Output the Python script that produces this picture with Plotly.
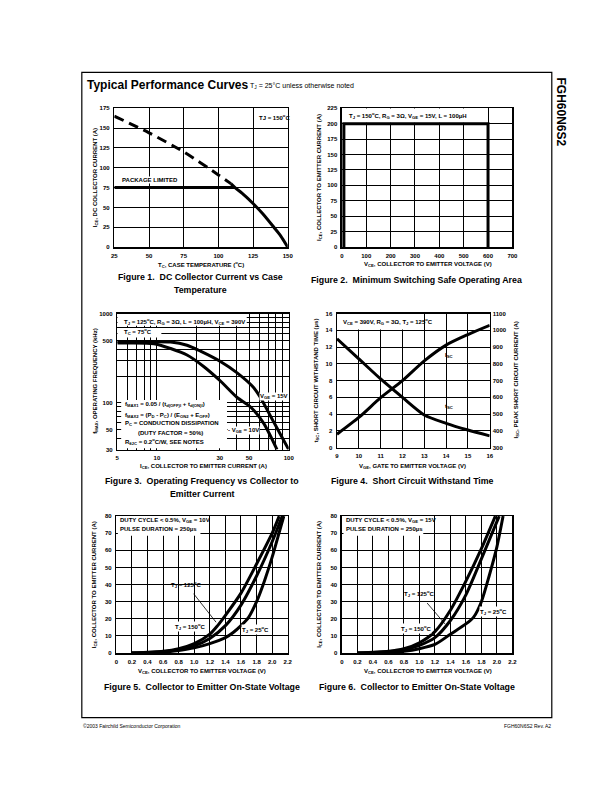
import math
import plotly.graph_objects as go

# ---------------- data ----------------
# Figure 1: DC collector current vs case temperature
fig1_tc_ticks = [25, 50, 75, 100, 125, 150]
fig1_ic_ticks = [0, 25, 50, 75, 100, 125, 150, 175]
fig1_dash_tc = [25, 50, 75, 100, 109]
fig1_dash_ic = [165, 144, 120, 91, 80]
fig1_curve_tc = [109, 112, 117, 125, 132, 140, 145, 150]
fig1_curve_ic = [80, 75, 68, 55, 42, 25, 14, 0]
fig1_pkg_tc = [25, 112]
fig1_pkg_ic = [75, 75]

# Figure 2: minimum switching SOA
fig2_vce_ticks = [0, 100, 200, 300, 400, 500, 600, 700]
fig2_ice_ticks = [0, 25, 50, 75, 100, 125, 150, 175, 200, 225]
fig2_soa_vce = [8, 8, 600, 600]
fig2_soa_ice = [0, 200, 200, 0]

# Figure 3: operating frequency vs collector current (log-log)
fig3_x_ticks = [5, 10, 30, 50, 100]
fig3_x_minor = [6, 7, 8, 9, 20, 40, 60, 70, 80, 90]
fig3_y_ticks = [30, 50, 100, 500, 1000]
fig3_y_minor = [40, 60, 70, 80, 90, 200, 300, 400, 600, 700, 800, 900]
fig3_ice_15v = [5, 9, 12.7, 16.9, 21.4, 30.3, 40.6, 54.3, 61, 76.9, 100]
fig3_f_15v = [485, 485, 481, 443, 380, 291, 217, 148, 115, 61, 30]
fig3_ice_10v = [5, 9.5, 12.7, 16.9, 22.6, 30.3, 40.6, 51.3, 64.6, 81.5]
fig3_f_10v = [468, 461, 407, 344, 256, 176, 115, 90, 59, 30]

# Figure 4: short circuit withstand time
fig4_vge = [9, 10, 11, 12, 13, 14, 15, 16]
fig4_tsc = [13.0, 10.6, 8.2, 6.0, 3.9, 2.9, 2.1, 1.4]
fig4_isc = [380, 480, 598, 700, 818, 912, 975, 1030]
fig4_left_ticks = [0, 2, 4, 6, 8, 10, 12, 14, 16]
fig4_right_ticks = [300, 400, 500, 600, 700, 800, 900, 1000, 1100]

# Figure 5: on-state voltage, VGE = 10V
vce_ticks = [0, 0.2, 0.4, 0.6, 0.8, 1.0, 1.2, 1.4, 1.6, 1.8, 2.0, 2.2]
vce_labels = ["0", "0.2", "0.4", "0.6", "0.8", "1.0", "1.2", "1.4", "1.6", "1.8", "2.0", "2.2"]
ice_ticks = [0, 10, 20, 30, 40, 50, 60, 70, 80]
fig5_v_125 = [0.2, 0.6, 0.8, 1.0, 1.2, 1.3, 1.4, 1.6, 1.8, 2.0, 2.09]
fig5_i_125 = [0, 1, 2.5, 5.5, 11, 16, 22, 35, 52, 70, 80]
fig5_v_150 = [0.2, 0.6, 0.8, 1.0, 1.2, 1.4, 1.6, 1.8, 2.0, 2.13]
fig5_i_150 = [0, 0.8, 2, 4.2, 8.5, 16, 28, 45, 65, 80]
fig5_v_25 = [0.2, 0.6, 0.8, 1.0, 1.2, 1.4, 1.5, 1.6, 1.7, 1.8, 1.9, 2.0, 2.1, 2.15]
fig5_i_25 = [0, 0.5, 1.5, 3, 5.5, 9, 12, 16, 21, 30, 42, 56, 72, 80]

# Figure 6: on-state voltage, VGE = 15V
fig6_v_125 = [0.2, 0.6, 0.8, 1.0, 1.2, 1.4, 1.6, 1.8, 1.98]
fig6_i_125 = [0, 1, 2.5, 6, 12.5, 25, 42, 61, 80]
fig6_v_150 = [0.2, 0.6, 0.8, 1.0, 1.2, 1.4, 1.6, 1.8, 2.03]
fig6_i_150 = [0, 0.8, 2, 4.5, 9, 19, 34, 55, 80]
fig6_v_25 = [0.2, 0.6, 0.8, 1.0, 1.2, 1.4, 1.6, 1.7, 1.8, 1.9, 2.0, 2.08]
fig6_i_25 = [0, 0.3, 1, 2.5, 5, 11, 17, 21, 30, 45, 62, 80]

# ---------------- layout helpers ----------------
W, H = 611, 792
FONT = "Liberation Sans, Arial, Helvetica, sans-serif"
BLACK = "black"
SMALL = 6


def px(x):
    return x / W


def py(y):
    return 1 - y / H


fig = go.Figure()


def add_line(x, y, xa, ya, dash=None, spline=True, width=3):
    fig.add_trace(go.Scatter(
        x=x, y=y, xaxis=xa, yaxis=ya, mode="lines",
        line=dict(color=BLACK, width=width, dash=dash,
                  shape="spline" if spline else "linear", smoothing=0.7),
        hoverinfo="skip", showlegend=False))


tickfont = dict(family=FONT, size=SMALL, color=BLACK, weight="bold")


def base_axis(**kw):
    d = dict(showgrid=True, gridcolor=BLACK, gridwidth=1, showline=True, mirror=True,
             linecolor=BLACK, linewidth=1.5, zeroline=False, ticks="",
             tickfont=tickfont, fixedrange=True, layer="above traces",
             ticklabelstandoff=2)
    d.update(kw)
    return d


def minor_grid(vals):
    return dict(tickvals=vals, showgrid=True, gridcolor=BLACK, gridwidth=1, ticks="")


# ---------------- traces ----------------
add_line(fig1_dash_tc, fig1_dash_ic, "x", "y", dash="10px,6px", spline=True)
add_line(fig1_curve_tc, fig1_curve_ic, "x", "y")
add_line(fig1_pkg_tc, fig1_pkg_ic, "x", "y", spline=False)

add_line(fig2_soa_vce, fig2_soa_ice, "x2", "y2", spline=False)

add_line(fig3_ice_15v, fig3_f_15v, "x3", "y3")
add_line(fig3_ice_10v, fig3_f_10v, "x3", "y3")

add_line(fig4_vge, fig4_tsc, "x4", "y4")
add_line(fig4_vge, fig4_isc, "x4", "y5")

add_line(fig5_v_125, fig5_i_125, "x5", "y6")
add_line(fig5_v_150, fig5_i_150, "x5", "y6")
add_line(fig5_v_25, fig5_i_25, "x5", "y6")

add_line(fig6_v_125, fig6_i_125, "x6", "y7")
add_line(fig6_v_150, fig6_i_150, "x6", "y7")
add_line(fig6_v_25, fig6_i_25, "x6", "y7")

# ---------------- axes ----------------
lay = dict(
    xaxis=base_axis(domain=[px(113), px(289)], range=[25, 150], tickvals=fig1_tc_ticks, anchor="y"),
    yaxis=base_axis(domain=[py(246), py(106)], range=[0, 175], tickvals=fig1_ic_ticks, anchor="x"),
    xaxis2=base_axis(domain=[px(344), px(517)], range=[0, 700], tickvals=fig2_vce_ticks, anchor="y2"),
    yaxis2=base_axis(domain=[py(246), py(106)], range=[0, 225], tickvals=fig2_ice_ticks, anchor="x2"),
    xaxis3=base_axis(domain=[px(116), px(290)], type="log", range=[math.log10(5), 2],
                     tickvals=fig3_x_ticks, ticktext=[str(v) for v in fig3_x_ticks],
                     minor=minor_grid(fig3_x_minor), anchor="y3"),
    yaxis3=base_axis(domain=[py(450), py(313)], type="log", range=[math.log10(30), 3],
                     tickvals=fig3_y_ticks, ticktext=[str(v) for v in fig3_y_ticks],
                     minor=minor_grid(fig3_y_minor), anchor="x3"),
    xaxis4=base_axis(domain=[px(339), px(494)], range=[9, 16], tickvals=fig4_vge, anchor="y4"),
    yaxis4=base_axis(domain=[py(448), py(313)], range=[0, 16], tickvals=fig4_left_ticks, anchor="x4"),
    yaxis5=base_axis(overlaying="y4", side="right", range=[300, 1100], tickvals=fig4_right_ticks,
                     anchor="x4", showgrid=False, showline=False, mirror=False),
    xaxis5=base_axis(domain=[px(115), px(289)], range=[0, 2.2], tickvals=vce_ticks,
                     ticktext=vce_labels, anchor="y6"),
    yaxis6=base_axis(domain=[py(655), py(517)], range=[0, 80], tickvals=ice_ticks, anchor="x5"),
    xaxis6=base_axis(domain=[px(344), px(517)], range=[0, 2.2], tickvals=vce_ticks,
                     ticktext=vce_labels, anchor="y7"),
    yaxis7=base_axis(domain=[py(655), py(517)], range=[0, 80], tickvals=ice_ticks, anchor="x6"),
)

# ---------------- shapes ----------------
shapes = []


def white_box(xr, yr, x0, x1, y0, y1):
    shapes.append(dict(type="rect", xref=xr, yref=yr, x0=x0, x1=x1, y0=y0, y1=y1,
                       fillcolor="white", line=dict(width=0), layer="between"))


white_box("x2", "y2", 1, 597, 201.5, 225)
white_box("x3", "y3", 5, 48, 730, 1000)
white_box("x3", "y3", 5, 10.8, 540, 690)
white_box("x3", "y3", 5.35, 34, 31, 108)
white_box("x4", "y4", 9.03, 12.97, 14.1, 16)
white_box("x5", "y6", 0.02, 1.08, 68.5, 80)
white_box("x6", "y7", 0.02, 1.05, 68.5, 80)

# page frame
shapes.append(dict(type="rect", xref="paper", yref="paper", x0=px(80), x1=px(557),
                   y0=py(720), y1=py(70), line=dict(color=BLACK, width=1.2)))

# ---------------- annotations ----------------
ann = []


def txt(text, x, y, xr="paper", yr="paper", size=SMALL, bold=True, xanchor="center",
        yanchor="middle", angle=0, bg=None, **kw):
    d = dict(text=text, x=x, y=y, xref=xr, yref=yr, showarrow=False,
             font=dict(family=FONT, size=size, color=BLACK, weight="bold" if bold else "normal"),
             xanchor=xanchor, yanchor=yanchor, textangle=angle, borderpad=0)
    if bg:
        d["bgcolor"] = bg
    d.update(kw)
    ann.append(d)


def ptxt(text, x, y, **kw):
    txt(text, px(x), py(y), **kw)


# header / page texts
ptxt("Typical Performance Curves", 84, 83, size=12, xanchor="left")
ptxt("T<sub>J</sub> = 25°C unless otherwise noted", 250, 84, size=7, bold=False, xanchor="left")
ptxt("FGH60N6S2", 566, 110, size=12, angle=90)
ptxt("©2003 Fairchild Semiconductor Corporation", 80, 729, size=5, bold=False, xanchor="left")
ptxt("FGH60N6S2 Rev. A2", 557, 729, size=5, bold=False, xanchor="right")

# captions
CAP = 8.8
ptxt("Figure 1.&nbsp; DC Collector Current vs Case", 200, 276, size=CAP)
ptxt("Temperature", 200, 289, size=CAP)
ptxt("Figure 2.&nbsp; Minimum Switching Safe Operating Area", 420, 279, size=CAP)
ptxt("Figure 3.&nbsp; Operating Frequency vs Collector to", 202, 482, size=CAP)
ptxt("Emitter Current", 202, 495, size=CAP)
ptxt("Figure 4.&nbsp; Short Circuit Withstand Time", 416, 482, size=CAP)
ptxt("Figure 5.&nbsp; Collector to Emitter On-State Voltage", 202, 689, size=CAP)
ptxt("Figure 6.&nbsp; Collector to Emitter On-State Voltage", 420, 689, size=CAP)

# axis titles
ptxt("I<sub>CE</sub>, DC COLLECTOR CURRENT (A)", 94, 176, angle=-90)
ptxt("T<sub>C</sub>, CASE TEMPERATURE (<sup>o</sup>C)", 201, 263)
ptxt("I<sub>CE</sub>, COLLECTOR TO EMITTER CURRENT (A)", 321, 176, angle=-90)
ptxt("V<sub>CE</sub>, COLLECTOR TO EMITTER VOLTAGE (V)", 431, 264)
ptxt("f<sub>MAX</sub>, OPERATING FREQUENCY (kHz)", 93, 381, angle=-90)
ptxt("I<sub>CE</sub>, COLLECTOR TO EMITTER CURRENT (A)", 203, 467)
ptxt("t<sub>SC</sub>, SHORT CIRCUIT WITHSTAND TIME (µs)", 318, 380, angle=-90)
ptxt("I<sub>SC</sub>, PEAK SHORT CIRCUIT CURRENT (A)", 521, 380, angle=-90)
ptxt("V<sub>GE</sub>, GATE TO EMITTER VOLTAGE (V)", 416, 467)
ptxt("I<sub>CE</sub>, COLLECTOR TO EMITTER CURRENT (A)", 93, 586, angle=-90)
ptxt("V<sub>CE</sub>, COLLECTOR TO EMITTER VOLTAGE (V)", 202, 674)
ptxt("I<sub>CE</sub>, COLLECTOR TO EMITTER CURRENT (A)", 321, 586, angle=-90)
ptxt("V<sub>CE</sub>, COLLECTOR TO EMITTER VOLTAGE (V)", 431, 674)

# in-plot texts
txt("TJ = 150<sup>o</sup>C", 140.5, 164, "x", "y")
txt("PACKAGE LIMITED", 30, 84, "x", "y", xanchor="left", bg="white")

txt("T<sub>J</sub> = 150<sup>o</sup>C, R<sub>G</sub> = 3Ω, V<sub>GE</sub> = 15V, L = 100µH",
    25, 213, "x2", "y2", xanchor="left")

L = math.log10
txt("T<sub>J</sub> = 125<sup>o</sup>C, R<sub>G</sub> = 3Ω, L = 100µH, V<sub>CE</sub> = 390V",
    L(5.5), L(820), "x3", "y3", xanchor="left")
txt("T<sub>C</sub> = 75<sup>o</sup>C", L(5.5), L(625), "x3", "y3", xanchor="left")
txt("V<sub>GE</sub> = 15V", L(77), L(118), "x3", "y3", bg="white")
txt("- V<sub>GE</sub> = 10V", L(45), L(48.6), "x3", "y3", bg="white")
txt("f<sub>MAX1</sub> = 0.05 / (t<sub>d(OFF)I</sub> + t<sub>d(ON)I</sub>)", L(5.6), L(95), "x3", "y3",
    xanchor="left")
txt("f<sub>MAX2</sub> = (P<sub>D</sub> - P<sub>C</sub>) / (E<sub>ON2</sub> + E<sub>OFF</sub>)",
    L(5.6), L(73), "x3", "y3", xanchor="left")
txt("P<sub>C</sub> = CONDUCTION DISSIPATION", L(5.6), L(59), "x3", "y3", xanchor="left")
txt("(DUTY FACTOR = 50%)", L(7.1), L(46.4), "x3", "y3", xanchor="left")
txt("R<sub>θJC</sub> = 0.2<sup>o</sup>C/W, SEE NOTES", L(5.6), L(37), "x3", "y3", xanchor="left")

txt("V<sub>CE</sub> = 390V, R<sub>G</sub> = 3Ω, T<sub>J</sub> = 125<sup>o</sup>C",
    9.25, 15.1, "x4", "y4", xanchor="left")
txt("I<sub>SC</sub>", 14.15, 11.0, "x4", "y4")
txt("t<sub>SC</sub>", 14.15, 4.9, "x4", "y4")

txt("DUTY CYCLE < 0.5%, V<sub>GE</sub> = 10V", 0.04, 77.3, "x5", "y6", xanchor="left")
txt("PULSE DURATION = 250µs", 0.04, 72.3, "x5", "y6", xanchor="left")
ann.append(dict(text="T<sub>J</sub> = 125<sup>o</sup>C", x=1.28, y=18, xref="x5", yref="y6",
                ax=0.9, ay=40, axref="x5", ayref="y6", showarrow=True, arrowhead=0,
                arrowwidth=0.8, arrowcolor=BLACK, standoff=0, startstandoff=4,
                font=dict(family=FONT, size=SMALL, color=BLACK, weight="bold")))
txt("T<sub>J</sub> = 150<sup>o</sup>C", 0.95, 15.5, "x5", "y6", bg="white")
txt("T<sub>J</sub> = 25<sup>o</sup>C", 1.78, 14, "x5", "y6", bg="white")

txt("DUTY CYCLE < 0.5%, V<sub>GE</sub> = 15V", 0.04, 77.3, "x6", "y7", xanchor="left")
txt("PULSE DURATION = 250µs", 0.04, 72.3, "x6", "y7", xanchor="left")
ann.append(dict(text="T<sub>J</sub> = 125<sup>o</sup>C", x=1.33, y=17, xref="x6", yref="y7",
                ax=1.0, ay=34.5, axref="x6", ayref="y7", showarrow=True, arrowhead=0,
                arrowwidth=0.8, arrowcolor=BLACK, standoff=0, startstandoff=4,
                font=dict(family=FONT, size=SMALL, color=BLACK, weight="bold")))
txt("T<sub>J</sub> = 150<sup>o</sup>C", 0.96, 14.4, "x6", "y7", bg="white")
txt("T<sub>J</sub> = 25<sup>o</sup>C", 1.96, 24, "x6", "y7", bg="white")

fig.update_layout(
    width=W, height=H, autosize=False,
    margin=dict(l=0, r=0, t=0, b=0, pad=0),
    paper_bgcolor="white", plot_bgcolor="white",
    showlegend=False,
    font=dict(family=FONT, color=BLACK),
    shapes=shapes, annotations=ann,
    **lay,
)

fig.write_html("out.html", config={"displayModeBar": False, "staticPlot": True},
               post_script="document.body.style.margin='0';")
